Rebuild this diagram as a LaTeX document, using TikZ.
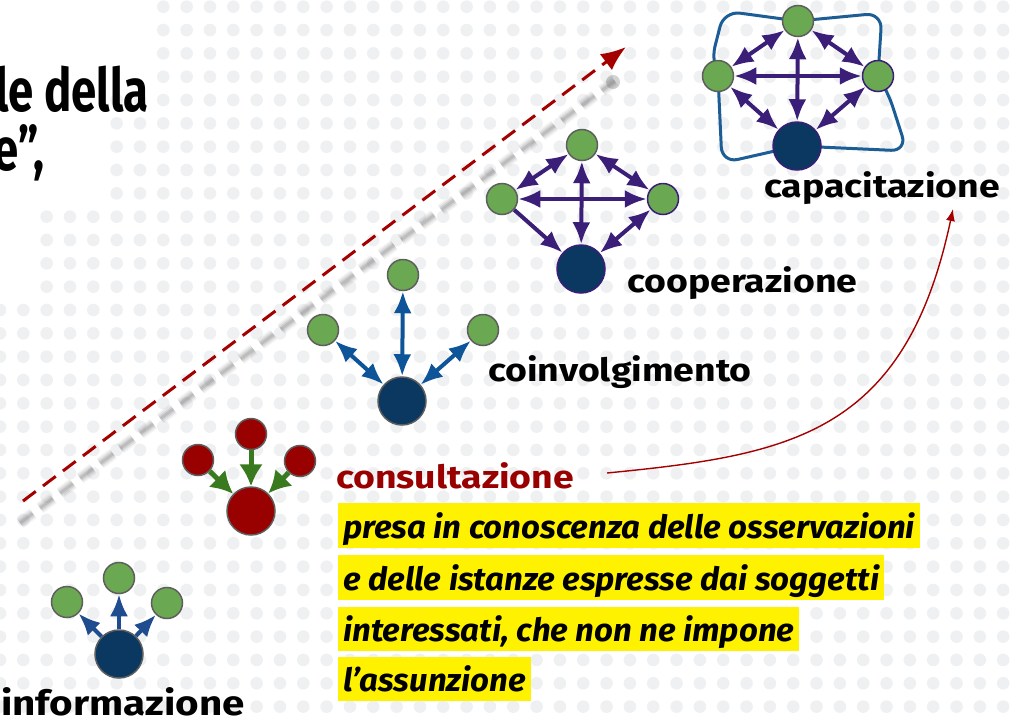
\documentclass[tikz,border=0pt]{standalone}
\usepackage{fontspec}
\setmainfont{Fira Sans}
\newfontfamily\labfont{Fira Sans}[FakeStretch=1.17]
\newfontfamily\itfont{Fira Sans}[FakeStretch=1.03]
\newfontfamily\ttlfont{Fira Sans}[FakeStretch=0.76]
\usetikzlibrary{arrows.meta}
\definecolor{navy}{HTML}{0A3861}
\definecolor{gnode}{HTML}{6AA951}
\definecolor{rnode}{HTML}{990000}
\definecolor{infblue}{HTML}{1E4C8E}
\definecolor{coblue}{HTML}{0D5499}
\definecolor{purp}{HTML}{3A1E78}
\definecolor{loopblue}{HTML}{1B5D94}
\definecolor{garrow}{HTML}{3A7A1F}
\definecolor{dred}{HTML}{A50000}
\definecolor{dotc}{HTML}{EFF0F2}
\definecolor{ncirc}{HTML}{5E5E5E}
\tikzset{
  bignode/.style={circle, minimum size=48pt, inner sep=0pt, fill=navy, draw=ncirc, line width=1.5pt},
  bigp/.style={bignode, draw=purp},
  smallg/.style={circle, minimum size=31pt, inner sep=0pt, fill=gnode, draw=ncirc, line width=1.5pt},
  bigr/.style={bignode, fill=rnode},
  smallr/.style={smallg, fill=rnode},
  lab/.style={inner sep=0pt, anchor=base west, font=\labfont\fontsize{32}{38}\selectfont\bfseries},
  hl/.style={fill=yellow, inner xsep=5pt, inner ysep=0pt, text height=35pt, text depth=9.5pt, anchor=base west,
     font=\itfont\fontsize{32}{38}\selectfont\bfseries\itshape},
  title/.style={inner sep=0pt, anchor=base east, font=\ttlfont\fontsize{60}{66}\selectfont\bfseries},
  infarr/.style={draw=infblue, line width=4pt, -{Latex[length=22pt,width=18pt]}},
  coarr/.style={draw=coblue, line width=4pt, {Latex[length=22pt,width=18pt]}-{Latex[length=22pt,width=18pt]}},
  gararr/.style={draw=garrow, line width=5pt, -{Latex[length=22pt,width=24pt]}},
  pdbl/.style={draw=purp, line width=4pt, {Latex[length=22pt,width=18pt]}-{Latex[length=22pt,width=18pt]}},
  psgl/.style={draw=purp, line width=4pt, -{Latex[length=22pt,width=18pt]}},
}
\begin{document}
\begin{tikzpicture}[x=1pt,y=-1pt]
\useasboundingbox (0,0) rectangle (1013,721);
\fill[white] (0,0) rectangle (1013,721);
% background dot grid
\foreach \i in {0,...,43}{
  \foreach \j in {0,...,30}{
    \pgfmathsetmacro\xx{23.33*\i}
    \pgfmathsetmacro\yy{6.7+23.33*\j}
    \pgfmathtruncatemacro\skipdot{((\xx<150)&&(\yy<100))||((\xx<100)&&(\yy<210))||((\xx<30)&&(\yy<300))}
    \ifnum\skipdot=0 \fill[dotc] (\xx,\yy) circle (6.3pt);\fi
  }
}
% title fragment
\node[title] (tA) at (149,111) {le della};
\node[title] (tB) at (45,170) {e”,};
% shadow of the dashed arrow
\coordinate (s1) at (20,523);
\coordinate (s2) at (616,80);
\foreach \w/\o in {12/0.07,9/0.10,6/0.14,3/0.2}{
  \draw[black!60, line width=\w pt, opacity=\o, dash pattern=on 16pt off 9pt] (s1) -- (s2);
}
\fill[black!70, opacity=0.25] (613,82) circle (7pt);
% dashed red arrow
\coordinate (d1) at (23,501);
\coordinate (d2) at (626,47);
\draw[dred, line width=3pt, dash pattern=on 16pt off 9pt, -{Latex[length=25pt,width=20pt]}] (d1) -- (d2);

% informazione
\node[bignode] (I) at (119,654) {};
\node[smallg] (Ia) at (67,602) {};
\node[smallg] (Ib) at (119,578) {};
\node[smallg] (Ic) at (167,603) {};
\draw[infarr] (I) -- (Ia);
\draw[infarr] (I) -- (Ib);
\draw[infarr] (I) -- (Ic);
\node[lab, font=\labfont\fontsize{34.5}{40}\selectfont\bfseries] (lI) at (1,715) {informazione};

% consultazione
\node[bigr] (C) at (251,511) {};
\node[smallr] (Ca) at (198,460) {};
\node[smallr] (Cb) at (251,434) {};
\node[smallr] (Cc) at (300,461) {};
\draw[gararr] (Ca) -- (C);
\draw[gararr] (Cb) -- (C);
\draw[gararr] (Cc) -- (C);
\node[lab, text=rnode] (lC) at (336,488) {consultazione};

% coinvolgimento
\node[bignode] (V) at (402,401) {};
\node[smallg] (Va) at (323,330) {};
\node[smallg] (Vb) at (403,275) {};
\node[smallg] (Vc) at (483,330) {};
\draw[coarr] (V) -- (Va);
\draw[coarr] (V) -- (Vb);
\draw[coarr] (V) -- (Vc);
\node[lab] (lV) at (488,381) {coinvolgimento};

% cooperazione
\node[bigp] (P) at (581,269) {};
\node[smallg] (Pl) at (502,199) {};
\node[smallg] (Pt) at (582,145) {};
\node[smallg, draw=purp] (Pr) at (663,199) {};
\draw[pdbl] (Pt) -- (Pl);
\draw[pdbl] (Pt) -- (Pr);
\draw[pdbl] (Pl) -- (Pr);
\draw[pdbl] (Pt) -- (P);
\draw[pdbl] (Pr) -- (P);
\draw[psgl] (Pl) -- (P);
\node[lab] (lP) at (627,292) {cooperazione};

% capacitazione
\coordinate (kT) at (798,21);
\coordinate (kL) at (718,76);
\coordinate (kR) at (878,76);
\coordinate (kB) at (797,146);
\draw[loopblue, line width=3pt, rounded corners=16pt]
  (kT) -- (724,11) -- (711,62) -- (kL) -- (722,163) -- (kB) -- (907,151) -- (888,92) -- (kR) -- (882,13) -- cycle;
\node[bigp] (K) at (kB) {};
\node[smallg] (Kl) at (kL) {};
\node[smallg] (Kt) at (kT) {};
\node[smallg, draw=purp] (Kr) at (kR) {};
\draw[pdbl] (Kt) -- (Kl);
\draw[pdbl] (Kt) -- (Kr);
\draw[pdbl] (Kl) -- (Kr);
\draw[pdbl] (Kt) -- (K);
\draw[pdbl] (Kr) -- (K);
\draw[pdbl] (Kl) -- (K);
\node[lab] (lK) at (764,197) {capacitazione};

% curved red arrow
\coordinate (cStart) at (607,473);
\coordinate (cEnd) at (953,209);
\draw[dred, line width=1.4pt, -{Latex[length=12pt,width=9pt]}] (cStart) .. controls (790,455) and (905,435) .. (cEnd);

% highlighted description
\node[hl] (t1) at (338,538.3) {presa in conoscenza delle osservazioni};
\node[hl] (t2) at (338,590) {e delle istanze espresse dai soggetti};
\node[hl] (t3) at (338,641.7) {interessati, che non ne impone};
\node[hl] (t4) at (338,691.7) {l’assunzione};
\end{tikzpicture}
\end{document}
